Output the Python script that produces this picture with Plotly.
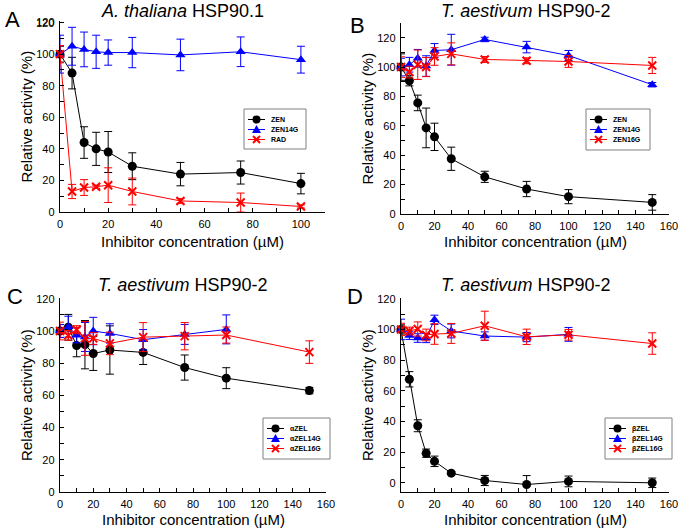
import plotly.graph_objects as go

W, H = 679, 528
FONT = "Arial, Liberation Sans, sans-serif"
BLACK, BLUE, RED = "#000000", "#0000ff", "#ff0000"

# ---------------- data ----------------
# Panel A  (A. thaliana HSP90.1)
a_x = [0, 5, 10, 15, 20, 30, 50, 75, 100]
a_zen = [100, 88, 44, 40, 38, 29, 24, 25, 18]
a_zen_err = [5, 10, 10, 10.5, 13, 8.5, 7.4, 7.3, 6.5]
a_zen14g = [100, 105, 103, 101.5, 101, 101, 99.5, 101.5, 96.5]
a_zen14g_err = [12, 12, 11, 10.5, 8, 9.6, 10, 9.4, 8.5]
a_rad = [100, 13, 15.5, 16, 17, 13, 7, 6, 3.5]
a_rad_err = [5.5, 4.5, 5, 1, 11, 8.5, 1.5, 6, 1]

# Panel B  (T. aestivum HSP90-2)
b_x = [0, 5, 10, 15, 20, 30, 50, 75, 100, 150]
b_zen = [100, 90.7, 75.6, 58.6, 52.5, 37.6, 25.3, 17, 11.8, 7.9]
b_zen_err = [9, 3.5, 5.3, 13.5, 9.3, 7.9, 3.8, 5.2, 4.8, 5.3]
b_zen14g = [100, 101.6, 106, 100.7, 111.3, 111.8, 118.8, 113.6, 107.9, 88]
b_zen14g_err = [6, 5, 6, 7, 4.7, 10.5, 1.5, 3.9, 3.4, 1.5]
b_zen16g = [100, 96.6, 101.6, 100, 107.2, 109, 105.2, 104.3, 103.8, 101.1]
b_zen16g_err = [7, 4, 10, 6.5, 6, 7.5, 2, 2, 4, 5.5]

# Panel C  (T. aestivum HSP90-2, alpha-ZEL)
c_x = [0, 5, 10, 15, 20, 30, 50, 75, 100, 150]
c_zel = [100, 102.3, 91, 91.5, 86, 88.2, 86.7, 77.3, 70.7, 63]
c_zel_err = [4, 8, 7, 15, 10.5, 15, 7.5, 7.8, 6.5, 2]
c_x14 = [0, 5, 10, 15, 20, 30, 50, 75, 100]
c_zel14g = [100, 102.7, 97.3, 96.3, 100, 98.5, 94.6, 97.9, 101]
c_zel14g_err = [4, 6.5, 4.7, 9, 8.5, 6, 6.3, 6.2, 9]
c_zel16g = [100, 97.3, 100.8, 95.4, 95.4, 92.3, 96.2, 96.8, 97.5, 86.9]
c_zel16g_err = [5.5, 3, 2.5, 10.5, 3.7, 7, 9, 8.5, 5, 7]

# Panel D  (T. aestivum HSP90-2, beta-ZEL)
d_x = [0, 5, 10, 15, 20, 30, 50, 75, 100, 150]
d_zel = [100, 67.5, 37.2, 19.3, 14, 6.3, 1.5, -1.1, 0.9, 0]
d_zel_err = [3, 5, 3.9, 2.7, 3.4, 1, 3.3, 5.8, 3.5, 3.1]
d_x14 = [0, 5, 10, 15, 20, 30, 50, 75, 100]
d_zel14g = [100, 96, 94.4, 94.4, 106.3, 99, 95.7, 95, 96.8]
d_zel14g_err = [6.7, 2.5, 2.8, 3, 3, 4.5, 2.7, 3, 4.5]
d_zel16g = [100, 99, 100.3, 96.4, 97, 97.4, 102.4, 95.2, 96.5, 90.8]
d_zel16g_err = [4, 2.5, 4.6, 3.8, 6.7, 6.5, 9.5, 5, 3.5, 7]

titles = ["<i>A. thaliana</i> HSP90.1", "<i>T. aestivum</i> HSP90-2",
          "<i>T. aestivum</i> HSP90-2", "<i>T. aestivum</i> HSP90-2"]
letters = ["A", "B", "C", "D"]
legend_names = [["ZEN", "ZEN14G", "RAD"],
                ["ZEN", "ZEN14G", "ZEN16G"],
                ["αZEL", "αZEL14G", "αZEL16G"],
                ["βZEL", "βZEL14G", "βZEL16G"]]
x_title = "Inhibitor concentration (µM)"
y_title = "Relative activity (%)"
y_tickvals = [0, 20, 40, 60, 80, 100, 120]

# ---------------- layout geometry (pixels) ----------------
# plot boxes: left, top, right, bottom
boxes = [(60, 21, 325, 212), (401, 23, 669, 214),
         (60, 298, 326, 492), (401, 298, 669, 492)]
x_ranges = [[0, 110], [0, 160], [0, 160], [0, 160]]
y_ranges = [[0, 121], [0, 130], [0, 120.5], [-6, 120.5]]
title_pos = [(182.5, 11), (525, 11), (182.5, 285), (525.5, 285)]
letter_pos = [(12, 20), (357, 25.5), (15, 296), (355, 296)]
xtitle_off = [30, 28, 27, 27]
legend_box = [(244, 109, 62, 40), (586, 109, 64, 41),
              (263, 418, 67, 41), (605, 418, 67, 41)]


def px(x):
    return x / W


def py(y):
    return 1 - y / H


fig = go.Figure()

styles = [
    dict(color=BLACK, symbol="circle", size=9, lw=0),
    dict(color=BLUE, symbol="triangle-up", size=9, lw=0),
    dict(color=RED, symbol="x-thin", size=8, lw=2),
]


def add_series(i, xs, ys, err, k):
    st = styles[k]
    sfx = "" if i == 0 else str(i + 1)
    fig.add_trace(go.Scatter(
        x=xs, y=ys, mode="lines+markers",
        xaxis="x" + sfx, yaxis="y" + sfx,
        line=dict(color=st["color"], width=1),
        marker=dict(symbol=st["symbol"], size=st["size"], color=st["color"],
                    line=dict(color=st["color"], width=st["lw"])),
        error_y=dict(type="data", array=err, visible=True, color=st["color"],
                     thickness=1, width=4),
        cliponaxis=False, showlegend=False,
    ))


add_series(0, a_x, a_zen, a_zen_err, 0)
add_series(0, a_x, a_zen14g, a_zen14g_err, 1)
add_series(0, a_x, a_rad, a_rad_err, 2)
add_series(1, b_x, b_zen, b_zen_err, 0)
add_series(1, b_x, b_zen14g, b_zen14g_err, 1)
add_series(1, b_x, b_zen16g, b_zen16g_err, 2)
add_series(2, c_x, c_zel, c_zel_err, 0)
add_series(2, c_x14, c_zel14g, c_zel14g_err, 1)
add_series(2, c_x, c_zel16g, c_zel16g_err, 2)
add_series(3, d_x, d_zel, d_zel_err, 0)
add_series(3, d_x14, d_zel14g, d_zel14g_err, 1)
add_series(3, d_x, d_zel16g, d_zel16g_err, 2)

axis_common = dict(
    showline=True, linecolor="black", linewidth=1, mirror=False,
    ticks="inside", ticklen=4, tickwidth=1, tickcolor="black",
    showgrid=False, zeroline=False, automargin=False,
    ticklabeloverflow="allow",
    tickfont=dict(family=FONT, size=11, color="black"),
    minor=dict(ticks="inside", ticklen=4, tickwidth=1, tickcolor="black",
               tick0=0, dtick=10, showgrid=False),
)

layout = dict(
    width=W, height=H, margin=dict(l=0, r=0, t=0, b=0, autoexpand=False),
    paper_bgcolor="white", plot_bgcolor="white", showlegend=False,
    font=dict(family=FONT, color="black"),
)

annotations = []
shapes = []
for i in range(4):
    l, t, r, b = boxes[i]
    sfx = "" if i == 0 else str(i + 1)
    layout["xaxis" + sfx] = dict(axis_common, domain=[px(l), px(r)],
                                 range=x_ranges[i], anchor="y" + sfx,
                                 tick0=0, dtick=20, ticklabelstandoff=2)
    layout["yaxis" + sfx] = dict(axis_common, domain=[py(b), py(t)],
                                 range=y_ranges[i], anchor="x" + sfx,
                                 tickmode="array", tickvals=y_tickvals,
                                 ticktext=[str(v) + "\u2009" for v in y_tickvals])
    # panel title
    tx, ty = title_pos[i]
    annotations.append(dict(text=titles[i], x=px(tx), y=py(ty), xref="paper",
                            yref="paper", showarrow=False, xanchor="center",
                            yanchor="middle", font=dict(size=18, family=FONT)))
    lx, ly = letter_pos[i]
    annotations.append(dict(text=letters[i], x=px(lx), y=py(ly), xref="paper",
                            yref="paper", showarrow=False, xanchor="center",
                            yanchor="middle", font=dict(size=22, family=FONT)))
    # axis titles
    annotations.append(dict(text=x_title, x=px((l + r) / 2),
                            y=py(b + xtitle_off[i]),
                            xref="paper", yref="paper", showarrow=False,
                            xanchor="center", yanchor="middle",
                            font=dict(size=15, family=FONT)))
    annotations.append(dict(text=y_title, x=px(l - 34), y=py((t + b) / 2),
                            xref="paper", yref="paper", showarrow=False,
                            xanchor="center", yanchor="middle", textangle=-90,
                            font=dict(size=15, family=FONT)))
    # legend
    bx, by, bw, bh = legend_box[i]
    shapes.append(dict(type="rect", xref="paper", yref="paper",
                       x0=px(bx), x1=px(bx + bw), y0=py(by + bh), y1=py(by),
                       line=dict(color="#808080", width=1), fillcolor="white",
                       layer="above"))
    for k, name in enumerate(legend_names[i]):
        yy = by + 10.5 + k * 10
        col = styles[k]["color"]
        shapes.append(dict(type="line", xref="paper", yref="paper",
                           x0=px(bx + 4), x1=px(bx + 21), y0=py(yy), y1=py(yy),
                           line=dict(color=col, width=1), layer="above"))
        cx = bx + 12.5
        if k == 0:
            shapes.append(dict(type="circle", xref="paper", yref="paper",
                               x0=px(cx - 4), x1=px(cx + 4), y0=py(yy + 4),
                               y1=py(yy - 4), fillcolor=col,
                               line=dict(color=col, width=0), layer="above"))
        elif k == 1:
            path = "M {:.5f},{:.5f} L {:.5f},{:.5f} L {:.5f},{:.5f} Z".format(
                px(cx - 4.5), py(yy + 3.5), px(cx + 4.5), py(yy + 3.5),
                px(cx), py(yy - 4.5))
            shapes.append(dict(type="path", xref="paper", yref="paper",
                               path=path, fillcolor=col,
                               line=dict(color=col, width=0), layer="above"))
        else:
            for sgn in (1, -1):
                shapes.append(dict(type="line", xref="paper", yref="paper",
                                   x0=px(cx - 3.5), x1=px(cx + 3.5),
                                   y0=py(yy - 3.5 * sgn), y1=py(yy + 3.5 * sgn),
                                   line=dict(color=col, width=2), layer="above"))
        annotations.append(dict(text="<b>" + name + "</b>", x=px(bx + 25),
                                y=py(yy), xref="paper", yref="paper",
                                showarrow=False, xanchor="left",
                                yanchor="middle",
                                font=dict(size=7, family=FONT, color="black")))

# top tick label of panel A, placed on the panel's own y scale
annotations.append(dict(text=str(y_tickvals[-1]), xref="paper", yref="y",
                        x=px(boxes[0][0] - 4), y=y_tickvals[-1],
                        xanchor="right", yanchor="middle", showarrow=False,
                        font=dict(size=11, family=FONT, color="black")))

layout["annotations"] = annotations
layout["shapes"] = shapes
fig.update_layout(**layout)

post_js = """
document.body.style.margin='0';
document.body.style.overflow='hidden';
"""
fig.write_html("out.html", config={"displayModeBar": False}, post_script=post_js)
